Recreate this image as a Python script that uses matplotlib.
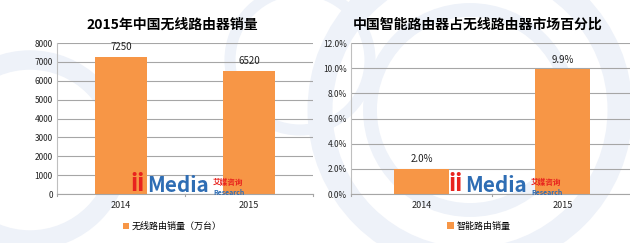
import matplotlib.pyplot as plt
from matplotlib.patches import Circle
import numpy as np

plt.rcParams['font.family'] = ['Noto Sans CJK SC', 'DejaVu Sans']

years = ['2014', '2015']
sales = [7250, 6520]            # 无线路由销量（万台）
smart_share = [2.0, 9.9]        # 智能路由器占比 %

orange = '#F79646'
grid_c = '#A6A6A6'

fig = plt.figure(figsize=(6.3, 2.43), dpi=100)

# faint background watermark rings
bg = fig.add_axes([0, 0, 1, 1], zorder=-10)
bg.set_xlim(0, 630)
bg.set_ylim(243, 0)
bg.axis('off')
for cx, cy, r, w in [(470, 110, 150, 18), (470, 110, 100, 10), (30, 150, 90, 14), (300, 60, 70, 8)]:
    bg.add_patch(Circle((cx, cy), r, fill=False, lw=w, ec='#EEF2F9'))


def style_axes(ax):
    ax.patch.set_alpha(0)
    for s in ['top', 'right']:
        ax.spines[s].set_visible(False)
    ax.spines['left'].set_color('#BFBFBF')
    ax.spines['bottom'].set_color(grid_c)
    ax.yaxis.grid(True, color=grid_c, linewidth=0.8)
    ax.set_axisbelow(True)
    ax.tick_params(axis='y', length=0, labelsize=6, pad=3, colors='#222222')
    ax.tick_params(axis='x', length=0, labelsize=6.5, pad=5, colors='#222222')
    ax.set_xlim(-0.5, 1.5)
    # small separator ticks between categories
    for xv in [-0.5, 0.5, 1.5]:
        ax.plot([xv, xv], [0, -0.012], transform=ax.get_xaxis_transform(),
                color=grid_c, lw=0.8, clip_on=False)


def logo(px):
    # px: left pixel of the logo
    fig.text(px / 630, 1 - 196 / 243, 'ii', color='#E8231E', fontsize=17,
             fontweight='bold', ha='left', va='bottom', zorder=5)
    fig.text((px + 17) / 630, 1 - 196 / 243, 'Media', color='#2E6DB4', fontsize=15,
             fontweight='bold', ha='left', va='bottom', zorder=5)
    fig.text((px + 83) / 630, 1 - 187 / 243, '艾媒咨询', color='#E8231E', fontsize=5.5,
             fontweight='bold', ha='left', va='bottom', zorder=5)
    fig.text((px + 83) / 630, 1 - 196 / 243, 'Research', color='#2E6DB4', fontsize=5,
             style='italic', fontweight='bold', ha='left', va='bottom', zorder=5)


# left chart
ax1 = fig.add_axes([0.0905, 0.2016, 0.4065, 0.6214])
x = np.arange(len(years))
ax1.bar(x, sales, width=0.41, color=orange, label='无线路由销量（万台）')
ax1.set_ylim(0, 8000)
ax1.set_yticks(np.arange(0, 8001, 1000))
ax1.set_xticks(x)
ax1.set_xticklabels(years)
style_axes(ax1)
for xi, v in zip(x, sales):
    ax1.text(xi, v + 250, f'{v}', ha='center', va='bottom', fontsize=7, color='#222222')
ax1.set_title('2015年中国无线路由器销量', fontsize=10, fontweight='bold', pad=10, x=0.45)
ax1.legend(loc='upper center', bbox_to_anchor=(0.45, -0.13), frameon=False,
           fontsize=6.5, handlelength=0.7, handleheight=0.7, handletextpad=0.3)
logo(130)

# right chart
ax2 = fig.add_axes([0.557, 0.2016, 0.4476, 0.6214])
ax2.bar(x, smart_share, width=0.39, color=orange, label='智能路由销量')
ax2.set_ylim(0, 12)
ax2.set_yticks(np.arange(0, 12.1, 2))
ax2.set_yticklabels([f'{v:.1f}%' for v in np.arange(0, 12.1, 2)])
ax2.set_xticks(x)
ax2.set_xticklabels(years)
style_axes(ax2)
for xi, v in zip(x, smart_share):
    ax2.text(xi, v + 0.35, f'{v:.1f}%', ha='center', va='bottom', fontsize=7, color='#222222')
ax2.set_title('中国智能路由器占无线路由器市场百分比', fontsize=10, fontweight='bold', pad=10, x=0.45)
ax2.legend(loc='upper center', bbox_to_anchor=(0.454, -0.13), frameon=False,
           fontsize=6.5, handlelength=0.7, handleheight=0.7, handletextpad=0.3)
logo(448)

fig.savefig('out.png', dpi=100)
